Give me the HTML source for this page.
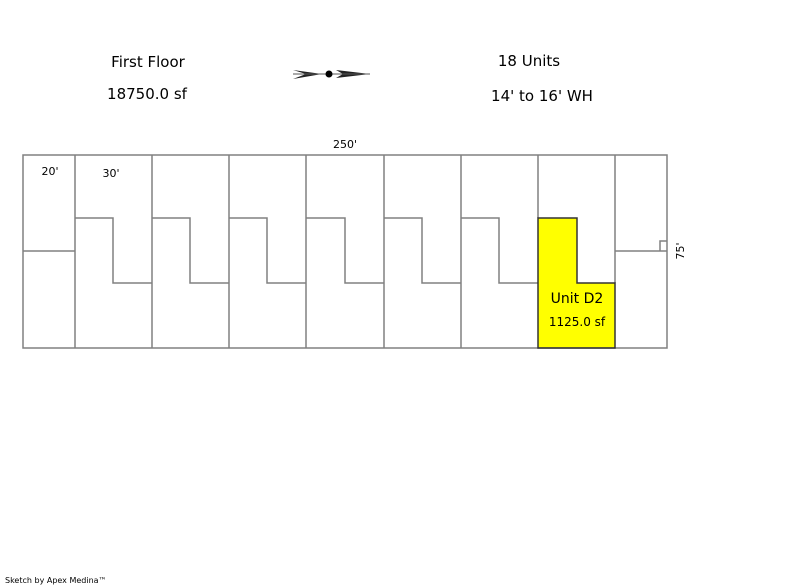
<!DOCTYPE html>
<html><head><style>
body{margin:0;width:800px;height:587px;background:#fff;overflow:hidden;font-family:"DejaVu Sans","Liberation Sans",sans-serif;}
</style></head><body>
<svg width="800" height="587" xmlns="http://www.w3.org/2000/svg" style="position:absolute;left:0;top:0">
<g font-family="DejaVu Sans, Liberation Sans, sans-serif" fill="#000">
<text x="148" y="67" font-size="15" text-anchor="middle">First Floor</text>
<text x="147" y="99" font-size="15" text-anchor="middle">18750.0 sf</text>
<text x="529" y="66" font-size="15" text-anchor="middle">18 Units</text>
<text x="542" y="101" font-size="15" text-anchor="middle">14' to 16' WH</text>
<text x="345" y="148" font-size="11" text-anchor="middle">250'</text>
<text x="50" y="175" font-size="11" text-anchor="middle">20'</text>
<text x="111" y="177" font-size="11" text-anchor="middle">30'</text>
<text x="684" y="251" font-size="11" text-anchor="middle" transform="rotate(-90 684 251)">75'</text>
<text x="5" y="583" font-size="8">Sketch by Apex Medina™</text>
</g>
<g>
<polygon points="293,70 322,74 293,79 306,74" fill="#222"/>
<polygon points="336,70 370,74 336,78 343,74" fill="#222"/>
<line x1="293" y1="74" x2="370" y2="74" stroke="#555" stroke-width="1"/>
<circle cx="329" cy="74" r="3.5" fill="#000"/>
</g>
<polygon points="538,218 577,218 577,283 615,283 615,348 538,348" fill="#ffff00"/>
<g stroke="#808080" stroke-width="1.5" fill="none">
<rect x="23" y="155" width="644" height="193"/>
<line x1="75" y1="155" x2="75" y2="348"/>
<line x1="152" y1="155" x2="152" y2="348"/>
<line x1="229" y1="155" x2="229" y2="348"/>
<line x1="306" y1="155" x2="306" y2="348"/>
<line x1="384" y1="155" x2="384" y2="348"/>
<line x1="461" y1="155" x2="461" y2="348"/>
<line x1="538" y1="155" x2="538" y2="218"/>
<line x1="615" y1="155" x2="615" y2="283"/>
<line x1="23" y1="251" x2="75" y2="251"/>
<polyline points="75,218 113,218 113,283 152,283"/>
<polyline points="152,218 190,218 190,283 229,283"/>
<polyline points="229,218 267,218 267,283 306,283"/>
<polyline points="306,218 345,218 345,283 384,283"/>
<polyline points="384,218 422,218 422,283 461,283"/>
<polyline points="461,218 499,218 499,283 538,283"/>
<line x1="615" y1="251" x2="667" y2="251"/>
<polyline points="660,251 660,241 667,241"/>
</g>
<polygon points="538,218 577,218 577,283 615,283 615,348 538,348" fill="none" stroke="#333" stroke-width="1.5"/>
<text x="577" y="303" font-size="14" text-anchor="middle" font-family="DejaVu Sans, Liberation Sans, sans-serif">Unit D2</text>
<text x="577" y="326" font-size="12" text-anchor="middle" font-family="DejaVu Sans, Liberation Sans, sans-serif">1125.0 sf</text>
</svg>
</body></html>
